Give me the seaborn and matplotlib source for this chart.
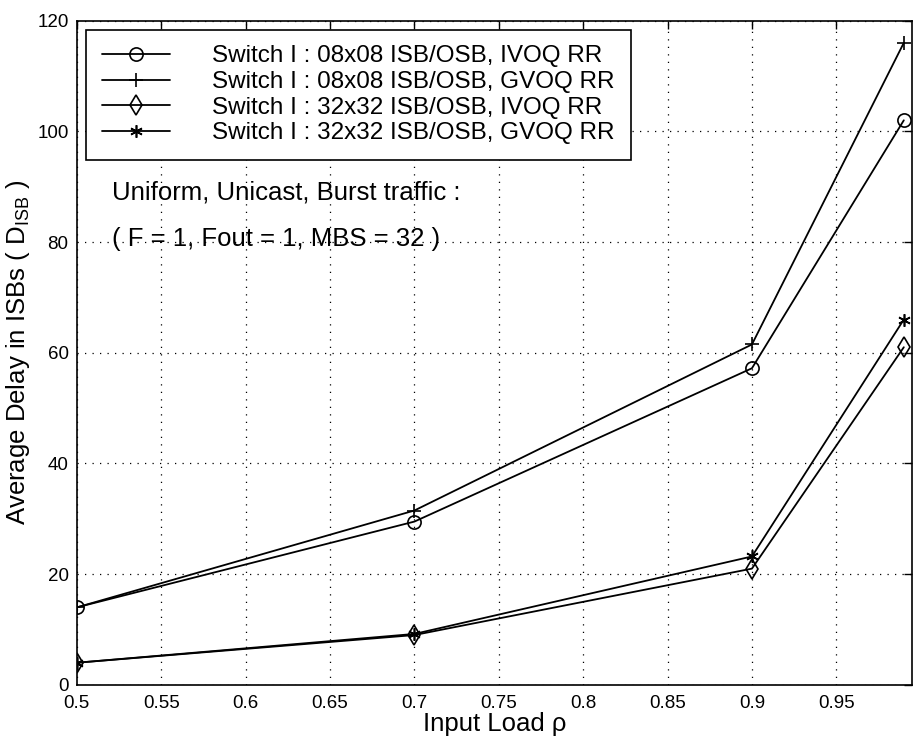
import numpy as np
import pandas as pd
import matplotlib
matplotlib.use('Agg')
import matplotlib.pyplot as plt
import seaborn as sns

sns.set_style('white')
plt.rcParams['font.family'] = ['Liberation Sans', 'DejaVu Sans']
plt.rcParams['mathtext.fontset'] = 'custom'
plt.rcParams['mathtext.rm'] = 'Liberation Sans'
plt.rcParams['mathtext.it'] = 'Liberation Sans'
plt.rcParams['text.color'] = 'black'
plt.rcParams['axes.labelcolor'] = 'black'

load = [0.5, 0.7, 0.9, 0.99]
sw8_ivoq = [14.0, 29.5, 57.2, 102.0]
sw8_gvoq = [14.0, 31.5, 61.5, 116.0]
sw32_ivoq = [4.0, 9.0, 21.0, 61.0]
sw32_gvoq = [4.0, 9.2, 23.2, 66.0]

labels = ['Switch I : 08x08 ISB/OSB, IVOQ RR',
          'Switch I : 08x08 ISB/OSB, GVOQ RR',
          'Switch I : 32x32 ISB/OSB, IVOQ RR',
          'Switch I : 32x32 ISB/OSB, GVOQ RR']
series = [sw8_ivoq, sw8_gvoq, sw32_ivoq, sw32_gvoq]
markers = ['o', '+', 'd', (6, 2, 0)]
msizes = [9.5, 10.5, 10, 9]

fig = plt.figure(figsize=(9.15, 7.38), dpi=100)
ax = fig.add_axes([0.084, 0.072, 0.913, 0.900])

for lab, vals, m, ms in zip(labels, series, markers, msizes):
    df = pd.DataFrame({'load': load, 'delay': vals})
    sns.lineplot(data=df, x='load', y='delay', ax=ax, color='black', lw=1.3,
                 marker=m, markersize=ms, markerfacecolor='none',
                 markeredgecolor='black', markeredgewidth=1.2, label=lab)

ax.set_xlim(0.5, 0.995)
ax.set_ylim(0, 120)
ax.set_xticks(np.arange(0.5, 0.96, 0.05))
ax.set_xticklabels(['0.5', '0.55', '0.6', '0.65', '0.7', '0.75', '0.8',
                    '0.85', '0.9', '0.95'])
ax.set_yticks(range(0, 121, 20))
ax.grid(True, linestyle=(0, (1, 5)), color='black', lw=0.9)
ax.tick_params(direction='in', top=True, right=True, length=6, width=1,
               labelsize=13.5, colors='black')
ax.tick_params(axis='x', pad=7)
ax.tick_params(axis='y', pad=6)
for s in ax.spines.values():
    s.set_color('black')
    s.set_linewidth(1.2)

ax.set_xlabel('Input Load ρ', fontsize=18.5, labelpad=0)
ax.set_ylabel(r'Average Delay in ISBs ( D$_{\mathrm{ISB}}$ )', fontsize=18.5,
              labelpad=4)

leg = ax.legend(loc='upper left', fontsize=17.5, frameon=True, fancybox=False,
                edgecolor='black', borderaxespad=0.37, handlelength=2.8,
                handletextpad=1.75, labelspacing=0.15, borderpad=0.65)
leg.get_frame().set_linewidth(1.2)
leg.get_frame().set_alpha(1)

ax.text(0.5208, 89, 'Uniform, Unicast, Burst traffic :', fontsize=18.5,
        va='center')
ax.text(0.5208, 80.5, '( F = 1, Fout = 1, MBS = 32 )', fontsize=18.5,
        va='center')

fig.savefig('out.png', dpi=100)
